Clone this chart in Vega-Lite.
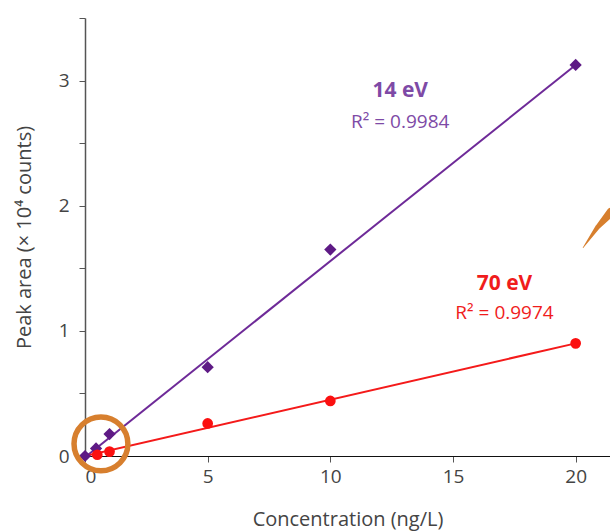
{
  "$schema": "https://vega.github.io/schema/vega-lite/v6.json",
  "width": 525,
  "height": 438,
  "autosize": {"type": "none"},
  "padding": {"left": 85, "top": 18, "right": 0, "bottom": 76},
  "config": {
    "view": {"stroke": null},
    "font": "Open Sans",
    "axis": {"grid": false}
  },
  "datasets": {
    "points": [
      {"series": "14 eV", "conc": 0, "area": 0.0},
      {"series": "14 eV", "conc": 0.45, "area": 0.06},
      {"series": "14 eV", "conc": 1, "area": 0.175},
      {"series": "14 eV", "conc": 5, "area": 0.71},
      {"series": "14 eV", "conc": 10, "area": 1.65},
      {"series": "14 eV", "conc": 20, "area": 3.125},
      {"series": "70 eV", "conc": 0.5, "area": 0.01},
      {"series": "70 eV", "conc": 1, "area": 0.035},
      {"series": "70 eV", "conc": 5, "area": 0.26},
      {"series": "70 eV", "conc": 10, "area": 0.44},
      {"series": "70 eV", "conc": 20, "area": 0.9}
    ],
    "fits": [
      {"series": "14 eV", "conc": 0, "area": -0.01},
      {"series": "14 eV", "conc": 20, "area": 3.125},
      {"series": "70 eV", "conc": 0, "area": 0.0},
      {"series": "70 eV", "conc": 20, "area": 0.9}
    ],
    "labels": [
      {"series": "14 eV", "conc": 12.85, "area": 2.92, "text": "14 eV", "kind": "name"},
      {"series": "14 eV", "conc": 12.85, "area": 2.67, "text": "R² = 0.9984", "kind": "r2"},
      {"series": "70 eV", "conc": 17.1, "area": 1.375, "text": "70 eV", "kind": "name"},
      {"series": "70 eV", "conc": 17.1, "area": 1.145, "text": "R² = 0.9974", "kind": "r2"}
    ],
    "highlight": [
      {"conc": 0.65, "area": 0.097}
    ],
    "stroke": [
      {"conc": 20.3, "area": 1.664, "step": 0},
      {"conc": 20.9, "area": 1.83, "step": 1},
      {"conc": 21.45, "area": 1.95, "step": 2}
    ]
  },
  "encoding": {
    "x": {
      "field": "conc",
      "type": "quantitative",
      "scale": {"domain": [0, 21.4], "nice": false, "zero": false},
      "axis": {
        "title": "Concentration (ng/L)",
        "values": [0, 5, 10, 15, 20],
        "domainColor": "#111111",
        "domainWidth": 1.2,
        "tickColor": "#555555",
        "tickSize": 6,
        "labelFontSize": 19,
        "labelColor": "#444444",
        "labelPadding": 5,
        "titleFontSize": 20,
        "titleFontWeight": "normal",
        "titleColor": "#444444",
        "titlePadding": 23
      }
    },
    "y": {
      "field": "area",
      "type": "quantitative",
      "scale": {"domain": [0, 3.5], "nice": false, "zero": false},
      "axis": {
        "title": "Peak area (× 10⁴ counts)",
        "values": [0, 0.5, 1, 1.5, 2, 2.5, 3, 3.5],
        "labelExpr": "datum.value % 1 == 0 ? format(datum.value, 'd') : ''",
        "domainColor": "#555555",
        "domainWidth": 1.5,
        "tickColor": "#555555",
        "tickSize": 6,
        "labelFontSize": 19,
        "labelColor": "#444444",
        "labelPadding": 10,
        "titleFontSize": 20,
        "titleFontWeight": "normal",
        "titleColor": "#444444",
        "titlePadding": 24
      }
    }
  },
  "layer": [
    {
      "data": {"name": "fits"},
      "mark": {"type": "line", "strokeWidth": 2, "clip": true},
      "encoding": {
        "color": {
          "field": "series",
          "type": "nominal",
          "scale": {"domain": ["14 eV", "70 eV"], "range": ["#6e2a98", "#f41a1a"]},
          "legend": null
        }
      }
    },
    {
      "data": {"name": "points"},
      "transform": [{"filter": "datum.series == '14 eV'"}],
      "mark": {"type": "point", "shape": "diamond", "filled": true, "size": 150, "color": "#5e1a85", "opacity": 1}
    },
    {
      "data": {"name": "points"},
      "transform": [{"filter": "datum.series == '70 eV'"}],
      "mark": {"type": "point", "shape": "circle", "filled": true, "size": 115, "color": "#fb1010", "opacity": 1}
    },
    {
      "data": {"name": "labels"},
      "transform": [{"filter": "datum.kind == 'name'"}],
      "mark": {"type": "text", "fontSize": 21, "fontWeight": "bold", "align": "center", "baseline": "middle"},
      "encoding": {
        "text": {"field": "text"},
        "color": {
          "field": "series",
          "type": "nominal",
          "scale": {"domain": ["14 eV", "70 eV"], "range": ["#7e4aa6", "#f01c1c"]},
          "legend": null
        }
      }
    },
    {
      "data": {"name": "labels"},
      "transform": [{"filter": "datum.kind == 'r2'"}],
      "mark": {"type": "text", "fontSize": 19, "align": "center", "baseline": "middle"},
      "encoding": {
        "text": {"field": "text"},
        "color": {
          "field": "series",
          "type": "nominal",
          "scale": {"domain": ["14 eV", "70 eV"], "range": ["#7e4aa6", "#f01c1c"]},
          "legend": null
        }
      }
    },
    {
      "data": {"name": "highlight"},
      "mark": {"type": "point", "shape": "circle", "filled": false, "size": 2900, "stroke": "#d77f2e", "strokeWidth": 5.5, "opacity": 1}
    },
    {
      "data": {"name": "stroke"},
      "mark": {"type": "trail", "color": "#d77f2e", "clip": true},
      "encoding": {
        "order": {"field": "step", "type": "quantitative"},
        "size": {"field": "step", "type": "quantitative", "scale": {"domain": [0, 2], "range": [0.5, 9]}, "legend": null}
      }
    }
  ],
  "resolve": {"scale": {"color": "independent"}}
}
